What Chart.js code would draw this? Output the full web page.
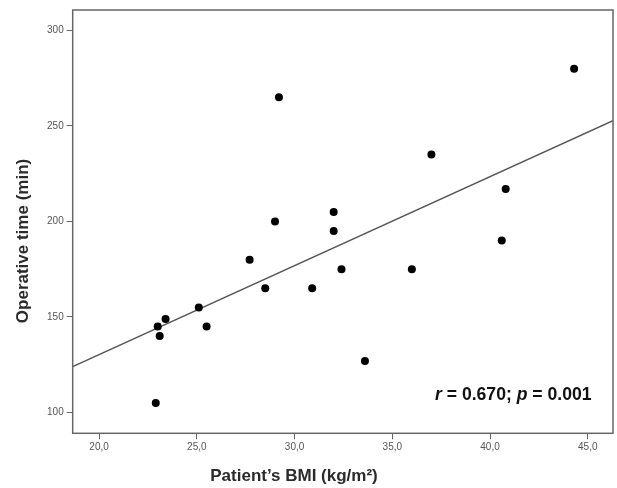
<!DOCTYPE html>
<html>
<head>
<meta charset="utf-8">
<script src="https://cdn.jsdelivr.net/npm/chart.js@4.4.1/dist/chart.umd.min.js"></script>
<style>
  html, body { margin: 0; padding: 0; background: #fff; overflow: hidden; }
  #wrap { width: 617px; height: 488px; position: relative; }
</style>
</head>
<body>
<div id="wrap"><canvas id="chart"></canvas></div>
<script>
// BMI vs operative time
const bmi    = [29.0, 32.0, 32.0, 27.7, 32.4, 28.5, 30.9, 25.1, 23.4, 23.0, 25.5, 23.1, 33.6, 22.9, 29.2, 44.3, 37.0, 40.8, 40.6, 36.0];
const opTime = [200, 205, 195, 180, 175, 165, 165, 155, 149, 145, 145, 140, 127, 105, 265, 280, 235, 217, 190, 175];

// fit line end points (at the plot edges)
const fitX = [18.65, 46.29];
const fitY = [124.0, 252.8];

const xTicks = [20, 25, 30, 35, 40, 45];
const yTicks = [100, 150, 200, 250, 300];

const FONT = '"Liberation Sans", Arial, sans-serif';

const overlay = {
    id: 'overlay',
    afterDraw(chart) {
        const { ctx, chartArea: a } = chart;
        ctx.save();
        // frame
        ctx.strokeStyle = '#666';
        ctx.lineWidth = 1.5;
        ctx.strokeRect(a.left, a.top, a.right - a.left, a.bottom - a.top);

        // axis titles
        ctx.fillStyle = '#2b2b2b';
        ctx.font = 'bold 17px ' + FONT;
        ctx.textAlign = 'center';
        ctx.textBaseline = 'alphabetic';
        ctx.fillText('Patient\u2019s BMI (kg/m\u00b2)', 294, 481);

        ctx.save();
        ctx.translate(23, 241);
        ctx.rotate(-Math.PI / 2);
        ctx.textBaseline = 'middle';
        ctx.fillText('Operative time (min)', 0, 0);
        ctx.restore();

        // stats note
        const parts = [
            ['r', true], [' = 0.670; ', false], ['p', true], [' = 0.001', false]
        ];
        let x = 435;
        ctx.textAlign = 'left';
        ctx.fillStyle = '#111';
        parts.forEach(([t, it]) => {
            ctx.font = (it ? 'italic ' : '') + 'bold 17.6px ' + FONT;
            ctx.fillText(t, x, 400);
            x += ctx.measureText(t).width;
        });
        ctx.restore();
    }
};

new Chart(document.getElementById('chart'), {
    type: 'scatter',
    data: {
        datasets: [{
            data: bmi.map((v, i) => ({ x: v, y: opTime[i] })),
            backgroundColor: '#000',
            borderWidth: 0,
            pointRadius: 4,
            pointHoverRadius: 4,
            order: 1
        }, {
            type: 'line',
            data: fitX.map((v, i) => ({ x: v, y: fitY[i] })),
            borderColor: '#555',
            borderWidth: 1.5,
            pointRadius: 0,
            fill: false,
            order: 2
        }]
    },
    options: {
        responsive: true,
        maintainAspectRatio: false,
        animation: false,
        layout: { padding: { top: 10, right: 1.5, left: 0, bottom: 0 } },
        plugins: {
            legend: { display: false },
            tooltip: { enabled: false }
        },
        scales: {
            x: {
                type: 'linear',
                min: 18.65,
                max: 46.29,
                afterBuildTicks: s => { s.ticks = xTicks.map(v => ({ value: v })); },
                afterFit: s => { s.height = 54.7; s.paddingLeft = 0; s.paddingRight = 0; },
                border: { display: false },
                grid: { drawOnChartArea: false, drawTicks: true, tickLength: 6, color: '#666', lineWidth: 1 },
                ticks: {
                    padding: 2,
                    color: '#555',
                    font: { family: FONT, size: 10 },
                    maxRotation: 0,
                    callback: v => v.toFixed(1).replace('.', ',')
                }
            },
            y: {
                min: 89.1,
                max: 310.7,
                afterBuildTicks: s => { s.ticks = yTicks.map(v => ({ value: v })); },
                afterFit: s => { s.width = 72.7; s.paddingTop = 0; s.paddingBottom = 0; },
                border: { display: false },
                grid: { drawOnChartArea: false, drawTicks: true, tickLength: 6, color: '#666', lineWidth: 1 },
                ticks: {
                    padding: 3,
                    color: '#555',
                    font: { family: FONT, size: 10 }
                }
            }
        }
    },
    plugins: [overlay]
});
</script>
</body>
</html>
